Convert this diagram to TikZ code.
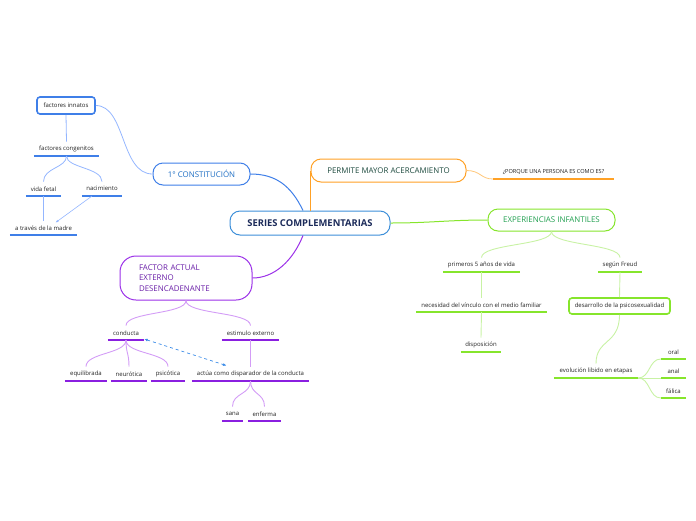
\documentclass[tikz,border=0pt]{standalone}
\usepackage{fontspec}
\setmainfont{Open Sans}
\usetikzlibrary{arrows.meta}
\definecolor{blueM}{HTML}{3F7FE8}
\definecolor{blueL}{HTML}{94B6FF}
\definecolor{rootB}{HTML}{3D8FD9}
\definecolor{navy}{HTML}{1C2B5A}
\definecolor{blueT}{HTML}{1F6FC4}
\definecolor{orangeM}{HTML}{FFA126}
\definecolor{orangeL}{HTML}{FFC77A}
\definecolor{permT}{HTML}{1E4B3F}
\definecolor{greenM}{HTML}{86E52C}
\definecolor{greenL}{HTML}{C8F2A4}
\definecolor{greenT}{HTML}{21A050}
\definecolor{purpM}{HTML}{9B30E8}
\definecolor{purpU}{HTML}{8A1FE0}
\definecolor{purpL}{HTML}{D39CF6}
\definecolor{purpT}{HTML}{6A1FA8}
\definecolor{dashB}{HTML}{3C8CE8}
\definecolor{txt}{HTML}{222222}
\newcommand\subn[6]{\node[subtext, anchor=south, minimum width=#4] (#1) at (#2,#3) {#6};
  \draw[line width=1.6pt, draw=#5] (#1.south west) -- (#1.south east);}
\begin{document}
\begin{tikzpicture}[x=1pt,y=-1pt,
  topic/.style={draw, rounded corners=10pt, line width=1pt, fill=white, inner sep=0pt,
    font=\fontsize{7.9}{9.5}\selectfont},
  smallbox/.style={draw, rounded corners=3pt, line width=1.6pt, fill=white, inner sep=0pt,
    font=\fontsize{6}{7}\selectfont, text=txt},
  subtext/.style={inner sep=0pt, minimum height=14pt, font=\fontsize{6}{7}\selectfont, text=txt},
  cB/.style={draw=blueM, line width=1pt},
  cBL/.style={draw=blueL, line width=0.8pt},
  cO/.style={draw=orangeM, line width=1pt},
  cG/.style={draw=greenM, line width=1pt},
  cGL/.style={draw=greenL, line width=0.9pt},
  cP/.style={draw=purpM, line width=1pt},
  cPL/.style={draw=purpL, line width=0.9pt}]
\useasboundingbox (0,0) rectangle (696,520);

% main topics
\node[topic, draw=rootB, text=navy, minimum width=160, minimum height=24,
  font=\bfseries\fontsize{9.4}{11}\selectfont] (root) at (310,223) {SERIES COMPLEMENTARIAS};
\node[topic, draw=blueM, text=blueT, minimum width=97, minimum height=22] (const) at (201.5,174) {1° CONSTITUCIÓN};
\node[topic, draw=orangeM, text=permT, minimum width=155, minimum height=23] (perm) at (388.5,170.5) {PERMITE MAYOR ACERCAMIENTO};
\node[topic, draw=greenM, text=greenT, minimum width=127, minimum height=22] (exp) at (551.5,220) {EXPERIENCIAS INFANTILES};
\node[topic, draw=purpM, text=purpT, rounded corners=16pt, minimum width=132, minimum height=44,
  text width=94, align=left, font=\fontsize{7.9}{10.5}\selectfont] (factor) at (186,278) {FACTOR ACTUAL\\EXTERNO\\DESENCADENANTE};

% boxes
\node[smallbox, draw=blueM, minimum width=58, minimum height=17] (innatos) at (66,105.5) {factores innatos};
\node[smallbox, draw=greenM, minimum width=101, minimum height=16] (dpsico) at (619.5,306) {desarrollo de la psicosexualidad};

% underlined subtopics
\subn{cong}{66.5}{156}{65}{blueM}{factores congenitos}
\subn{vfetal}{43.5}{196}{35}{blueM}{vida fetal}
\subn{nac}{102}{196}{40}{blueM}{nacimiento}
\subn{madre}{43.5}{235}{67}{blueM}{a través de la madre}
\node[subtext, anchor=south, minimum width=121, font=\fontsize{5.6}{6.5}\selectfont] (porque) at (553.5,179) {¿PORQUE UNA PERSONA ES COMO ES?};
\draw[line width=1.6pt, draw=orangeM] (porque.south west) -- (porque.south east);
\subn{primeros}{481.5}{272}{77}{greenM}{primeros 5 años de vida}
\subn{segun}{620}{272}{44}{greenM}{según Freud}
\subn{necesidad}{481.5}{312}{131}{greenM}{necesidad del vínculo con el medio familiar}
\subn{disp}{481}{352}{40}{greenM}{disposición}
\subn{evol}{596}{378}{84}{greenM}{evolución libido en etapas}
\subn{oral}{673.5}{359}{25}{greenM}{oral}
\subn{anal}{673.5}{378}{25}{greenM}{anal}
\subn{falica}{673.5}{398}{25}{greenM}{fálica}
\subn{conducta}{126}{340}{36}{purpU}{conducta}
\subn{estimulo}{250.5}{340}{57}{purpU}{estimulo externo}
\subn{equil}{86}{381}{42}{purpU}{equilibrada}
\subn{neur}{129}{381}{36}{purpU}{neurótica}
\subn{psic}{168}{381}{34}{purpU}{psicótica}
\subn{actua}{250.5}{381}{117}{purpU}{actúa como disparador de la conducta}
\subn{sana}{232.5}{421}{21}{purpU}{sana}
\subn{enferma}{264.5}{421}{33}{purpU}{enferma}

% main connectors
\draw[cB] ([xshift=-7pt]root.north) .. controls +(-12,-25) and +(25,0) .. (const.east);
\draw[cO] (root.north) -- (root.north |- perm.west);
\draw[draw=orangeL, line width=0.8pt] (perm.east) .. controls +(14,0) and +(-12,0) .. (porque.south west);
\draw[cG] (root.east) .. controls +(40,0) and +(-40,0) .. (exp.west);
\draw[cP] ([xshift=-7pt]root.south) .. controls +(-10,25) and +(22,0) .. (factor.east);

% constitucion branch
\draw[cBL] (const.west) .. controls +(-32,0) and +(30,0) .. (innatos.east);
\draw[cBL] (innatos.south) -- (cong.north);
\draw[cBL] (cong.south) .. controls +(0,12) and +(0,-14) .. (vfetal.north);
\draw[cBL] (cong.south) .. controls +(0,12) and +(0,-14) .. (nac.north);
\draw[cBL] (vfetal.south) -- (madre.north);
\draw[draw=blueL, line width=0.6pt, -{Latex[length=3pt,width=2.5pt]}] ([xshift=-10pt]nac.south) -- ([xshift=12pt, yshift=-2pt]madre.north);

% experiencias branch
\draw[cGL] (exp.south) .. controls +(0,14) and +(0,-14) .. (primeros.north);
\draw[cGL] (exp.south) .. controls +(0,14) and +(0,-14) .. (segun.north);
\draw[cGL] (primeros.south) -- (necesidad.north);
\draw[cGL] (necesidad.south) -- (disp.north);
\draw[cGL] (segun.south) -- (dpsico.north);
\draw[cGL] (dpsico.south) .. controls +(0,30) and +(0,-25) .. (evol.north);
\draw[cGL] (evol.south east) .. controls +(12,0) and +(-12,0) .. (oral.south west);
\draw[cGL] (evol.south east) -- (anal.south west);
\draw[cGL] (evol.south east) .. controls +(12,0) and +(-12,0) .. (falica.south west);

% factor branch
\draw[cPL] (factor.south) .. controls +(0,14) and +(0,-14) .. (conducta.north);
\draw[cPL] (factor.south) .. controls +(0,14) and +(0,-14) .. (estimulo.north);
\draw[cPL] (conducta.south) .. controls +(0,14) and +(0,-14) .. (equil.north);
\draw[cPL] (conducta.south) .. controls +(0,14) and +(0,-14) .. (neur.north);
\draw[cPL] (conducta.south) .. controls +(0,14) and +(0,-14) .. (psic.north);
\draw[cPL] (estimulo.south) -- (actua.north);
\draw[cPL] (actua.south) .. controls +(0,14) and +(0,-14) .. (sana.north);
\draw[cPL] (actua.south) .. controls +(0,14) and +(0,-14) .. (enferma.north);
\draw[draw=dashB, line width=0.7pt, dashed, {Latex[length=3.5pt,width=3pt]}-{Latex[length=3.5pt,width=3pt]}]
  ([yshift=1pt]conducta.south east) -- ([xshift=-24pt, yshift=1pt]actua.north);
\end{tikzpicture}
\end{document}
